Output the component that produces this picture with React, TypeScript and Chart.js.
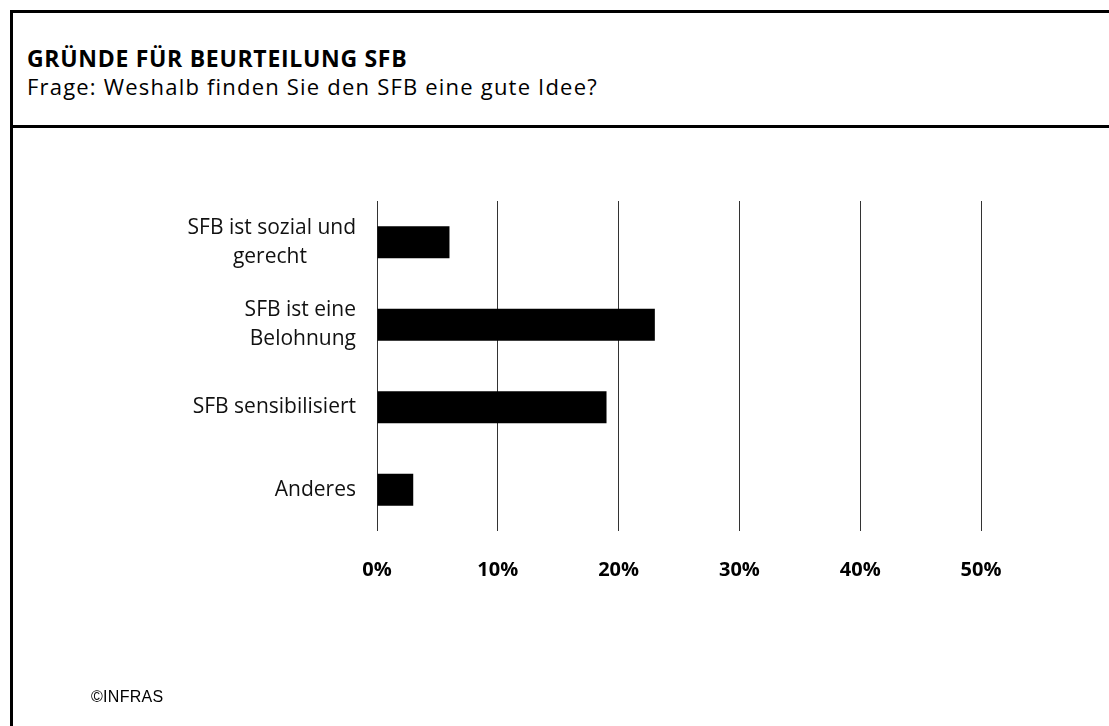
import React, { useEffect, useRef } from "react";
import { Chart, registerables } from "chart.js";

Chart.register(...registerables);

const titleText = "GRÜNDE FÜR BEURTEILUNG SFB";
const subtitleText = "Frage: Weshalb finden Sie den SFB eine gute Idee?";
const footerText = "©INFRAS";

const categories: string[][] = [
  ["SFB ist sozial und", "gerecht"],
  ["SFB ist eine", "Belohnung"],
  ["SFB sensibilisiert"],
  ["Anderes"],
];
const values: number[] = [6, 23, 19, 3];
const xTickValues: number[] = [0, 10, 20, 30, 40, 50];

const LABEL_FONT_FAMILY = "'Open Sans', sans-serif";
const LABEL_FONT_SIZE = 21;

function centerLines(lines: string[]): string[] {
  const ctx = document.createElement("canvas").getContext("2d");
  if (!ctx || lines.length < 2) return lines;
  ctx.font = `${LABEL_FONT_SIZE}px ${LABEL_FONT_FAMILY}`;
  const widths = lines.map((l) => ctx.measureText(l).width);
  const max = Math.max(...widths);
  const sp = ctx.measureText(" ").width || 5;
  return lines.map((l, i) => l + " ".repeat(Math.round((max - widths[i]) / 2 / sp)));
}

export default function App() {
  const canvasRef = useRef<HTMLCanvasElement | null>(null);

  useEffect(() => {
    if (!canvasRef.current) return;
    const labels = categories.map((c) => centerLines(c));
    const chart = new Chart(canvasRef.current, {
      type: "bar",
      data: {
        labels,
        datasets: [
          {
            data: values,
            backgroundColor: "#000000",
            borderWidth: 0,
            barPercentage: 0.39,
            categoryPercentage: 1,
          },
        ],
      },
      options: {
        indexAxis: "y",
        animation: false,
        responsive: false,
        devicePixelRatio: 1,
        layout: { padding: { top: 73, right: 128, bottom: 117, left: 0 } },
        plugins: {
          legend: { display: false },
          tooltip: { enabled: false },
          title: { display: false },
        },
        scales: {
          x: {
            type: "linear",
            min: xTickValues[0],
            max: xTickValues[xTickValues.length - 1],
            afterBuildTicks: (scale: any) => {
              scale.ticks = xTickValues.map((v) => ({ value: v }));
            },
            ticks: {
              padding: 27,
              color: "#000",
              font: { family: LABEL_FONT_FAMILY, size: 20, weight: "bold" },
              callback: (v: any) => `${v}%`,
            },
            grid: { color: "#333333", lineWidth: 1, drawTicks: false },
            border: { display: false },
          },
          y: {
            type: "category",
            afterFit: (scale: any) => {
              scale.width = 364;
            },
            ticks: {
              padding: 21,
              color: "#111",
              font: { family: LABEL_FONT_FAMILY, size: LABEL_FONT_SIZE, lineHeight: 1.4 },
            },
            grid: { display: false, drawTicks: false },
            border: { display: false },
          },
        },
      },
    });
    return () => chart.destroy();
  }, []);

  return (
    <div style={{ position: "absolute", left: 0, top: 0, width: 1109, height: 726, overflow: "hidden", background: "#fff" }}>
      <div
        style={{
          position: "absolute",
          left: 10,
          top: 10,
          width: 1099,
          height: 716,
          borderTop: "3px solid #000",
          borderLeft: "3px solid #000",
          boxSizing: "border-box",
        }}
      />
      <div style={{ position: "absolute", left: 10, top: 125, width: 1099, height: 3, background: "#000" }} />
      <div
        style={{
          position: "absolute",
          left: 27,
          top: 47,
          fontFamily: "'Open Sans', sans-serif",
          fontWeight: 700,
          fontSize: 23,
          lineHeight: 1,
          letterSpacing: 0.7,
          color: "#000",
          whiteSpace: "nowrap",
        }}
      >
        {titleText}
      </div>
      <div
        style={{
          position: "absolute",
          left: 27,
          top: 75,
          fontFamily: "'Open Sans', sans-serif",
          fontSize: 22,
          lineHeight: 1,
          letterSpacing: 1.2,
          color: "#000",
          whiteSpace: "nowrap",
        }}
      >
        {subtitleText}
      </div>
      <canvas
        ref={canvasRef}
        width={1096}
        height={598}
        style={{ position: "absolute", left: 13, top: 128, width: 1096, height: 598 }}
      />
      <div
        style={{
          position: "absolute",
          left: 91,
          top: 689,
          fontFamily: "'Liberation Sans', Arial, sans-serif",
          fontSize: 16,
          lineHeight: 1,
          letterSpacing: 0.3,
          color: "#000",
          whiteSpace: "nowrap",
        }}
      >
        {footerText}
      </div>
    </div>
  );
}
